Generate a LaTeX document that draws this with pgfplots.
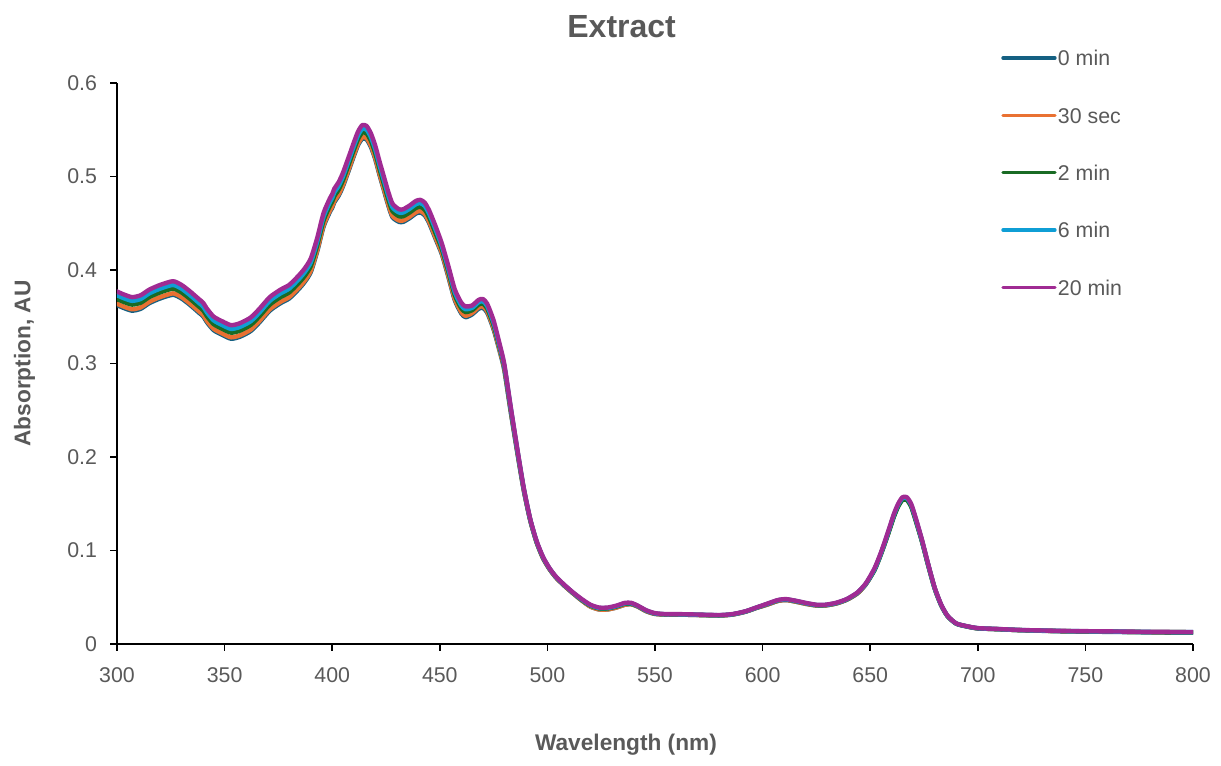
\documentclass[border=0pt]{standalone}
\usepackage{fontspec}
\setmainfont{Liberation Sans}
\usepackage{pgfplots}
\usepackage{pgfplotstable}
\pgfplotsset{compat=1.18}
\definecolor{cA}{HTML}{156082}
\definecolor{cB}{HTML}{E97132}
\definecolor{cC}{HTML}{196B24}
\definecolor{cD}{HTML}{0F9ED5}
\definecolor{cE}{HTML}{A02B93}
\definecolor{tgray}{HTML}{595959}
\pgfplotstableread{
x b o g c p
300 .3625 .364 .369 .373 .377
303 .3595 .361 .366 .370 .374
307 .3565 .358 .363 .367 .371
311 .3585 .360 .365 .369 .373
315 .3645 .366 .371 .375 .379
320 .3695 .371 .376 .380 .384
326 .3735 .375 .380 .384 .388
330 .3695 .371 .376 .380 .384
334 .3625 .364 .369 .373 .377
338 .3545 .356 .361 .365 .369
340 .3505 .352 .357 .361 .365
342 .3435 .345 .350 .354 .358
345 .3355 .337 .342 .346 .350
349 .3305 .332 .337 .341 .345
353 .3265 .328 .333 .337 .341
357 .3285 .330 .335 .339 .343
362 .3345 .336 .341 .345 .349
366 .3435 .345 .350 .354 .358
371 .3565 .358 .363 .367 .371
376 .3645 .366 .371 .375 .379
380 .3695 .371 .376 .380 .384
384 .3785 .380 .385 .389 .393
387 .3865 .388 .393 .397 .401
390 .3975 .399 .404 .408 .412
393 .4195 .421 .426 .430 .434
396 .4465 .448 .453 .457 .461
399 .4625 .464 .469 .473 .477
400 .4665 .468 .473 .477 .481
401 .4725 .474 .479 .483 .487
403 .4795 .481 .486 .490 .494
405 .4895 .491 .496 .500 .504
408 .5085 .510 .515 .519 .523
410 .5215 .523 .528 .532 .536
412 .5335 .535 .540 .544 .548
414 .5405 .542 .547 .551 .555
416 .5395 .541 .546 .550 .554
418 .5315 .533 .538 .542 .546
420 .5185 .520 .525 .529 .533
422 .5015 .503 .508 .512 .516
424 .4855 .487 .492 .496 .500
426 .4695 .471 .476 .480 .484
428 .4565 .458 .463 .467 .471
431 .4515 .453 .4575 .4615 .465
433 .4515 .453 .4575 .4615 .465
436 .4555 .457 .4615 .4655 .469
439 .4605 .462 .4665 .4705 .474
441 .4615 .463 .4675 .4715 .475
443 .4585 .460 .4645 .4685 .472
445 .4505 .452 .4565 .4605 .464
448 .4335 .435 .4395 .4435 .447
451 .4165 .418 .422 .425 .428
454 .3925 .394 .398 .401 .404
457 .3675 .369 .373 .376 .379
460 .3535 .355 .359 .362 .365
462 .3495 .351 .355 .358 .361
465 .3525 .354 .357 .3595 .362
468 .3585 .360 .363 .3655 .368
470 .3595 .361 .364 .3665 .369
472 .3545 .356 .359 .3615 .364
475 .3365 .338 .341 .3435 .346
478 .3115 .313 .3155 .317 .319
480 .2925 .294 .296 .2975 .299
483 .2475 .249 .2505 .252 .253
486 .205 .206 .207 .208 .209
489 .1645 .165 .166 .1665 .167
492 .1325 .1325 .133 .1335 .134
495 .1088 .1085 .109 .1095 .110
498 .0918 .0915 .092 .0925 .093
501 .080 .080 .0805 .0807 .081
504 .071 .071 .0715 .0717 .072
508 .062 .062 .0625 .0627 .063
512 .054 .054 .0545 .0547 .055
516 .0465 .0465 .047 .0475 .048
520 .040 .040 .041 .0415 .042
524 .037 .037 .038 .0385 .039
528 .037 .037 .038 .0385 .039
532 .039 .039 .040 .0405 .041
536 .042 .042 .043 .0435 .044
539 .0425 .0425 .043 .0435 .044
542 .040 .040 .0405 .0407 .041
546 .035 .035 .0355 .0357 .036
550 .0322 .0322 .0325 .0327 .033
555 .0315 .0315 .0317 .0318 .032
560 .0315 .0315 .0317 .0318 .032
570 .031 .031 .0312 .0313 .0315
580 .0305 .0305 .0307 .0308 .031
586 .0315 .0315 .0317 .0318 .032
592 .0345 .0345 .0347 .0348 .035
597 .0385 .0385 .0387 .0388 .039
602 .042 .042 .0425 .0427 .043
607 .046 .046 .0465 .0467 .047
611 .047 .047 .0475 .0477 .048
616 .045 .045 .0455 .0457 .046
620 .043 .043 .0435 .0437 .044
625 .0412 .0412 .0415 .0417 .042
629 .0412 .0412 .0415 .0417 .042
634 .0432 .0432 .0435 .0437 .044
639 .0472 .0472 .0475 .0477 .048
644 .054 .054 .0545 .0547 .055
648 .064 .064 .0643 .0645 .065
652 .0795 .0795 .079 .080 .081
655 .0965 .0965 .096 .097 .098
658 .116 .116 .1155 .117 .118
661 .137 .137 .136 .138 .139
663 .148 .148 .147 .149 .150
665 .155 .155 .154 .156 .157
667 .155 .155 .154 .156 .157
669 .148 .148 .147 .149 .150
671 .134 .134 .133 .135 .136
674 .1105 .1105 .110 .111 .112
677 .084 .084 .0835 .0845 .085
680 .0593 .0593 .059 .0595 .060
683 .0415 .0415 .0413 .0417 .042
686 .0297 .0297 .0295 .0298 .030
690 .0218 .0218 .0217 .0219 .022
695 .0188 .0188 .0187 .0189 .019
700 .0168 .0168 .0167 .0169 .017
710 .0158 .0158 .0158 .0159 .016
720 .0148 .0148 .0148 .0149 .015
740 .0135 .0138 .0138 .0139 .014
760 .013 .0133 .0133 .0134 .0135
780 .0124 .0128 .0128 .0129 .013
800 .012 .0126 .0126 .0127 .0128
}\spectra
\begin{document}
\begin{tikzpicture}
\begin{axis}[name=ax,
  scale only axis, width=807pt, height=420.75pt,
  xmin=300, xmax=800, ymin=0, ymax=0.6,
  xtick={300,350,...,800}, ytick={0,0.1,...,0.6},
  axis lines*=left, axis line style={black, line width=1.1pt},
  tick align=outside, tick style={black, line width=1.1pt},
  major tick length=5pt,
  /pgf/number format/assume math mode=true,
  /pgf/number format/fixed,
  ticklabel style={font=\fontsize{16}{19}\selectfont, text=tgray},
  xticklabel style={yshift=-9pt},
  yticklabel style={xshift=-6.5pt},
  xlabel={Wavelength (nm)}, ylabel={Absorption, AU},
  label style={font=\fontsize{17}{20}\selectfont\bfseries, text=tgray},
  xlabel style={at={(axis description cs:0.473,-0.18)}, anchor=center},
  ylabel style={at={(axis description cs:-0.086,0.5)}, anchor=center, rotate=0},
  title={Extract},
  title style={at={(axis description cs:0.469,1.087)}, anchor=center, font=\fontsize{24}{28}\selectfont\bfseries, text=tgray},
  legend cell align=left,
  legend style={draw=none, fill=none, at={(axis description cs:0.8216,1.0585)}, anchor=north west,
    font=\fontsize{16}{19}\selectfont, text=tgray, row sep=28pt, column sep=1pt,
    inner sep=0pt, nodes={inner sep=0pt, text height=11.5pt, text depth=3.5pt}},
  legend image code/.code={\draw[#1, line width=2.5pt, line cap=round] (0pt,1.8pt) -- (39pt,1.8pt);},
  every axis plot/.append style={line width=3.3pt, line join=round, line cap=round, smooth, tension=0.4},
]
\addplot[cA] table[x=x,y=b]{\spectra};
\addlegendentry{0 min}
\addplot[cB] table[x=x,y=o]{\spectra};
\addlegendentry{30 sec}
\addplot[cC] table[x=x,y=g]{\spectra};
\addlegendentry{2 min}
\addplot[cD] table[x=x,y=c]{\spectra};
\addlegendentry{6 min}
\addplot[cE] table[x=x,y=p]{\spectra};
\addlegendentry{20 min}
\end{axis}
\pgfresetboundingbox
\path[use as bounding box] ([shift={(-87.75pt,-90.75pt)}]ax.south west) rectangle ([shift={(828pt,483pt)}]ax.south west);
\end{tikzpicture}
\end{document}
